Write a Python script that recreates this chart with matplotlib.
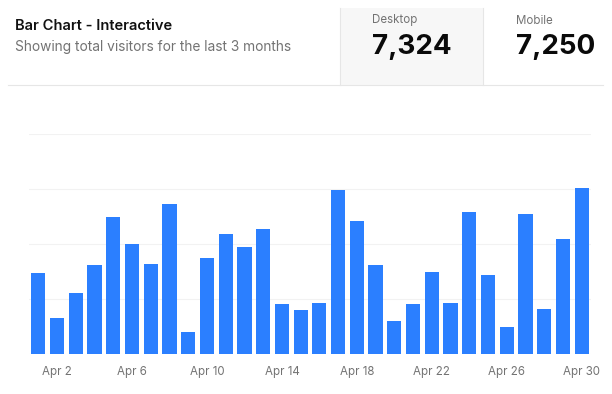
import matplotlib.pyplot as plt
from matplotlib.patches import Rectangle
from matplotlib.lines import Line2D
import numpy as np

plt.rcParams['font.family'] = ['Inter', 'DejaVu Sans']

# desktop visitors, Apr 1 - Apr 30
days = [f"Apr {d}" for d in range(1, 31)]
desktop = [222, 97, 167, 242, 373, 301, 245, 409, 59, 261,
           327, 292, 342, 137, 120, 138, 446, 364, 243, 89,
           137, 224, 138, 387, 215, 75, 383, 122, 315, 454]
totals_labels = ["Desktop", "Mobile"]
totals_values = [7324, 7250]

bar_color = "#2b7fff"
W, H = 612, 394

fig = plt.figure(figsize=(W / 100, H / 100), dpi=100)

def fx(px):
    return px / W

def fy(py):
    return 1 - py / H

# header
fig.patches.append(Rectangle((fx(340), fy(85)), fx(483) - fx(340), fy(8) - fy(85),
                             transform=fig.transFigure, facecolor="#f7f7f7",
                             edgecolor="none", zorder=0))
for x in (340, 483):
    fig.lines.append(Line2D([fx(x), fx(x)], [fy(85), fy(8)], transform=fig.transFigure,
                            color="#e6e6e6", lw=0.8))
fig.lines.append(Line2D([fx(8), fx(603)], [fy(85), fy(85)], transform=fig.transFigure,
                        color="#e6e6e6", lw=0.8))

fig.text(fx(15), fy(25.5), "Bar Chart - Interactive", fontsize=10.6, fontweight="semibold",
         color="#111111", va="center", ha="left")
fig.text(fx(15), fy(46.5), "Showing total visitors for the last 3 months", fontsize=9.9,
         color="#737373", va="center", ha="left")

for i, (lab, val) in enumerate(zip(totals_labels, totals_values)):
    x0 = 372 + i * 144
    fig.text(fx(x0), fy(20.5), lab, fontsize=8.3, color="#737373", va="center", ha="left")
    fig.text(fx(x0), fy(47), f"{val:,}", fontsize=20, fontweight="bold",
             color="#0a0a0a", va="center", ha="left")

# chart
ax = fig.add_axes([fx(29), fy(354), fx(591) - fx(29), fy(134) - fy(354)])
x = np.arange(len(days))
ax.bar(x, desktop, width=0.76, color=bar_color, zorder=2)
ax.set_xlim(-0.5, len(days) - 0.5)
ax.set_ylim(0, 600)
ax.set_yticks([0, 150, 300, 450, 600])
ax.yaxis.grid(True, color="#f2f2f2", lw=0.8, zorder=0)
ax.tick_params(axis="y", left=False, labelleft=False)
ax.set_xticks(x[1::4])
ax.set_xticklabels(days[1::4])
ax.tick_params(axis="x", length=0, pad=9, labelsize=8.3, labelcolor="#737373")
for s in ax.spines.values():
    s.set_visible(False)

fig.savefig("out.png", dpi=100)
